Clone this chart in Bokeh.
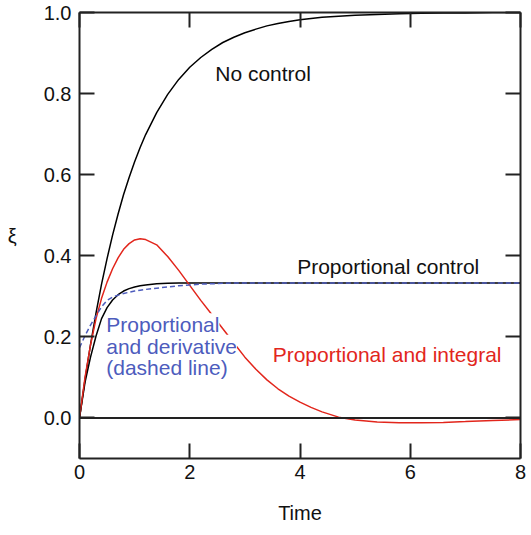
from bokeh.plotting import figure
from bokeh.models import Range1d, LinearAxis, FixedTicker, Label, Span, PrintfTickFormatter
from bokeh.embed import file_html
from bokeh.resources import INLINE

# ---- data ----
time = [0, 0.1, 0.2, 0.3, 0.4, 0.5, 0.6, 0.7, 0.8, 0.9, 1.0, 1.1, 1.2, 1.4, 1.6, 1.8,
        2.0, 2.2, 2.4, 2.6, 2.8, 3.0, 3.2, 3.4, 3.6, 3.8, 4.0, 4.2, 4.4, 4.7, 5.0,
        5.4, 5.8, 6.2, 6.6, 7.0, 7.5, 8.0]
no_control = [0, 0.095, 0.181, 0.259, 0.330, 0.393, 0.451, 0.503, 0.551, 0.593, 0.632,
              0.667, 0.699, 0.753, 0.798, 0.835, 0.865, 0.889, 0.909, 0.926, 0.939,
              0.950, 0.959, 0.967, 0.973, 0.978, 0.982, 0.985, 0.988, 0.991, 0.993,
              0.995, 0.997, 0.998, 0.999, 0.999, 1.0, 1.0]
proportional = [0, 0.088, 0.150, 0.202, 0.245, 0.272, 0.291, 0.304, 0.313, 0.319, 0.323,
                0.326, 0.328, 0.331, 0.332, 0.333, 0.333, 0.333, 0.333, 0.333, 0.333,
                0.333, 0.333, 0.333, 0.333, 0.333, 0.333, 0.333, 0.333, 0.333, 0.333,
                0.333, 0.333, 0.333, 0.333, 0.333, 0.333, 0.333]
prop_derivative = [0.173, 0.203, 0.229, 0.252, 0.274, 0.290, 0.298, 0.303, 0.307, 0.310,
                   0.313, 0.315, 0.317, 0.320, 0.323, 0.326, 0.328, 0.330, 0.331, 0.332,
                   0.333, 0.333, 0.333, 0.333, 0.333, 0.333, 0.333, 0.333, 0.333, 0.333,
                   0.333, 0.333, 0.333, 0.333, 0.333, 0.333, 0.333, 0.333]
prop_integral = [0, 0.100, 0.180, 0.245, 0.295, 0.335, 0.368, 0.395, 0.416, 0.430, 0.439,
                 0.442, 0.440, 0.427, 0.398, 0.364, 0.327, 0.290, 0.255, 0.220, 0.185,
                 0.150, 0.120, 0.094, 0.072, 0.054, 0.039, 0.026, 0.015, 0.002, -0.005,
                 -0.010, -0.012, -0.012, -0.011, -0.009, -0.006, -0.004]
x_ticks = [0, 2, 4, 6, 8]
y_ticks = [0.0, 0.2, 0.4, 0.6, 0.8, 1.0]

FONT = "Liberation Sans"
AX = "#222222"
RED = "#e2261c"
BLUE = "#4d5cbd"

p = figure(width=527, height=530, x_range=Range1d(0, 8), y_range=Range1d(-0.1, 1.0),
           output_backend="svg", toolbar_location=None,
           min_border_left=79, min_border_right=7, min_border_top=12, min_border_bottom=72)
p.grid.visible = False
p.outline_line_color = None
p.background_fill_color = "white"
p.border_fill_color = "white"

def style(ax, ticks, show_labels):
    ax.ticker = FixedTicker(ticks=ticks)
    ax.axis_line_width = 2
    ax.axis_line_color = AX
    ax.major_tick_in = 15
    ax.major_tick_out = 0
    ax.major_tick_line_width = 2
    ax.major_tick_line_color = AX
    ax.minor_tick_line_color = None
    ax.major_label_text_font = FONT
    ax.major_label_text_font_size = "20px"
    ax.major_label_text_color = "#111111"
    if not show_labels:
        ax.major_label_text_color = None
        ax.major_label_text_font_size = "1px"
        ax.major_label_standoff = 0

style(p.xaxis[0], x_ticks, True)
style(p.yaxis[0], y_ticks, True)
p.yaxis[0].formatter = PrintfTickFormatter(format="%.1f")
p.xaxis[0].major_label_standoff = 6
p.yaxis[0].major_label_standoff = 8
p.xaxis[0].axis_label = "Time"
p.yaxis[0].axis_label = "ξ"
for ax in (p.xaxis[0], p.yaxis[0]):
    ax.axis_label_text_font = FONT
    ax.axis_label_text_font_size = "20px"
    ax.axis_label_text_font_style = "normal"
    ax.axis_label_text_color = "#111111"
p.xaxis[0].axis_label_standoff = 20
p.yaxis[0].axis_label_standoff = 24
p.yaxis[0].axis_label_orientation = "horizontal"

top = LinearAxis()
right = LinearAxis()
style(top, x_ticks, False)
style(right, y_ticks, False)
p.add_layout(top, "above")
p.add_layout(right, "right")

p.add_layout(Span(location=0, dimension="width", line_color=AX, line_width=2))

p.line(time, no_control, line_color="black", line_width=1.5)
p.line(time, proportional, line_color="black", line_width=1.5)
p.line(time, prop_integral, line_color=RED, line_width=1.5)
p.line(time, prop_derivative, line_color=BLUE, line_width=1.5, line_dash="5 3")

def lab(x, y, text, color, align="center"):
    p.add_layout(Label(x=x, y=y, text=text, text_font=FONT, text_font_size="21px",
                       text_color=color, text_align=align, text_baseline="middle",
                       background_fill_color="white"))

lab(3.33, 0.849, "No control", "#111111")
lab(5.60, 0.374, "Proportional control", "#111111")
lab(5.58, 0.156, "Proportional and integral", RED)
lab(0.485, 0.230, "Proportional", BLUE, "left")
lab(0.485, 0.177, "and derivative", BLUE, "left")
lab(0.485, 0.124, "(dashed line)", BLUE, "left")

open("out.html", "w").write(file_html(p, INLINE))
